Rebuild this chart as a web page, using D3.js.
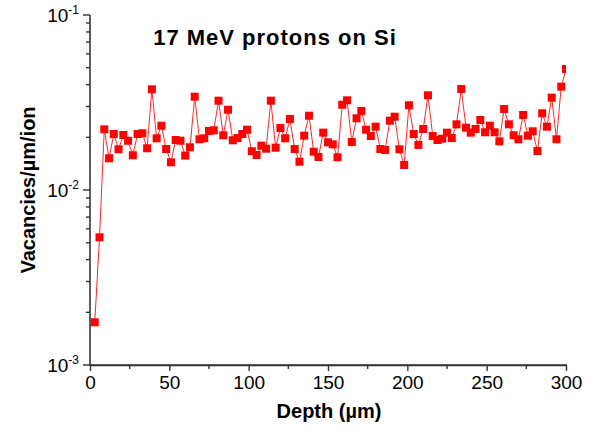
<!DOCTYPE html>
<html><head><meta charset="utf-8">
<script src="https://cdn.jsdelivr.net/npm/d3@7"></script>
<style>
html,body{margin:0;padding:0;background:#fff;}
text{font-family:"Liberation Sans",Arial,sans-serif;}
</style></head>
<body>
<svg id="c" width="590" height="430"></svg>
<script>
// Depth (µm) of each sample point
const depths = d3.range(3, 301, 3);
// Vacancies per µm per ion
const vacancies = [
0.001754,0.005365,0.02222,0.01518,0.02089,0.01708,0.02062,0.01912,0.01579,0.02089,
0.02109,0.01731,0.03762,0.01974,0.02330,0.01715,0.01440,0.01931,0.01912,0.01573,
0.01754,0.03413,0.01949,0.01974,0.02173,0.02193,0.03237,0.02054,0.02876,0.01923,
0.01982,0.02089,0.02211,0.01664,0.01585,0.01791,0.01722,0.03237,0.01745,0.02261,
0.01974,0.02545,0.01715,0.01451,0.02043,0.02658,0.01655,0.01544,0.02126,0.01873,
0.01824,0.01538,0.03071,0.03254,0.01880,0.02569,0.02827,0.02211,0.02035,0.02300,
0.01715,0.01693,0.02489,0.02623,0.01708,0.01389,0.03048,0.02089,0.01808,0.02231,
0.03477,0.02035,0.01931,0.01964,0.02126,0.01982,0.02373,0.03777,0.02270,0.02126,
0.02231,0.02512,0.02137,0.02330,0.02137,0.01897,0.02902,0.02373,0.02054,0.01949,
0.02683,0.02043,0.02165,0.01671,0.02743,0.02300,0.03369,0.01949,0.03893,0.04913
];
const xTicks = [0,50,100,150,200,250,300];
const yTickExps = [-3,-2,-1];

const L=90,R=566,T=15,B=365;
const svg=d3.select("#c");
const x=d3.scaleLinear().domain([0,300]).range([L,R]);
const y=d3.scaleLog().domain([1e-3,1e-1]).range([B,T]);
const axisColor="#333";

svg.append("defs").append("clipPath").attr("id","clip")
  .append("rect").attr("x",L).attr("y",T-5).attr("width",R-L).attr("height",B-T+5);

const data=depths.map((d,i)=>({d,v:vacancies[i]}));

const g=svg.append("g").attr("clip-path","url(#clip)");
g.append("path").datum(data)
  .attr("fill","none").attr("stroke","#ff2828").attr("stroke-width",1)
  .attr("d",d3.line().x(p=>x(p.d)).y(p=>y(p.v)));
const s=8;
g.selectAll("rect.m").data(data).join("rect")
  .attr("x",p=>x(p.d)-s/2).attr("y",p=>y(p.v)-s/2)
  .attr("width",s).attr("height",s).attr("fill","#ff0000");

// X axis
const xa=svg.append("g").attr("transform",`translate(0,${B})`)
  .call(d3.axisBottom(x).tickValues(xTicks).tickSize(6).tickSizeOuter(0).tickFormat(d3.format("d")));
xa.select(".domain").attr("stroke",axisColor).attr("stroke-width",1.6);
xa.selectAll(".tick line").attr("stroke",axisColor).attr("stroke-width",1.4);
xa.selectAll(".tick text").attr("font-size",19).attr("fill","#000").attr("dy","0.95em").attr("y",6);
// minor x ticks
svg.append("g").selectAll("line").data(d3.range(25,300,50)).join("line")
  .attr("x1",d=>x(d)).attr("x2",d=>x(d)).attr("y1",B).attr("y2",B+4)
  .attr("stroke",axisColor).attr("stroke-width",1.4);
svg.append("line").attr("x1",L-1).attr("x2",R+1).attr("y1",B).attr("y2",B).attr("stroke",axisColor).attr("stroke-width",1.6);

// Y axis
svg.append("line").attr("x1",L).attr("x2",L).attr("y1",T).attr("y2",B+1).attr("stroke",axisColor).attr("stroke-width",1.6);
const majors=yTickExps.map(e=>Math.pow(10,e));
svg.append("g").selectAll("line").data(majors).join("line")
  .attr("x1",L-7).attr("x2",L).attr("y1",d=>y(d)).attr("y2",d=>y(d))
  .attr("stroke",axisColor).attr("stroke-width",1.4);
const minors=[];
[-3,-2].forEach(e=>{for(let k=2;k<=9;k++)minors.push(k*Math.pow(10,e));});
svg.append("g").selectAll("line").data(minors).join("line")
  .attr("x1",L-4).attr("x2",L).attr("y1",d=>y(d)).attr("y2",d=>y(d))
  .attr("stroke",axisColor).attr("stroke-width",1.4);
const yl=svg.append("g").selectAll("text").data(yTickExps).join("text")
  .attr("x",L-11).attr("y",e=>y(Math.pow(10,e))+7)
  .attr("text-anchor","end").attr("font-size",19).attr("fill","#000");
yl.append("tspan").text("10");
yl.append("tspan").attr("font-size",12).attr("dy",-8).text(e=>"-"+Math.abs(e));

// Labels
svg.append("text").attr("x",275).attr("y",45).attr("text-anchor","middle")
  .attr("font-size",22).attr("font-weight","bold").attr("letter-spacing",1).text("17 MeV protons on Si");
svg.append("text").attr("x",329).attr("y",418).attr("text-anchor","middle")
  .attr("font-size",20).attr("font-weight","bold").text("Depth (\u00b5m)");
svg.append("text").attr("transform","translate(35,190) rotate(-90)").attr("text-anchor","middle")
  .attr("font-size",20).attr("font-weight","bold").text("Vacancies/\u00b5m/ion");
</script>
</body></html>
